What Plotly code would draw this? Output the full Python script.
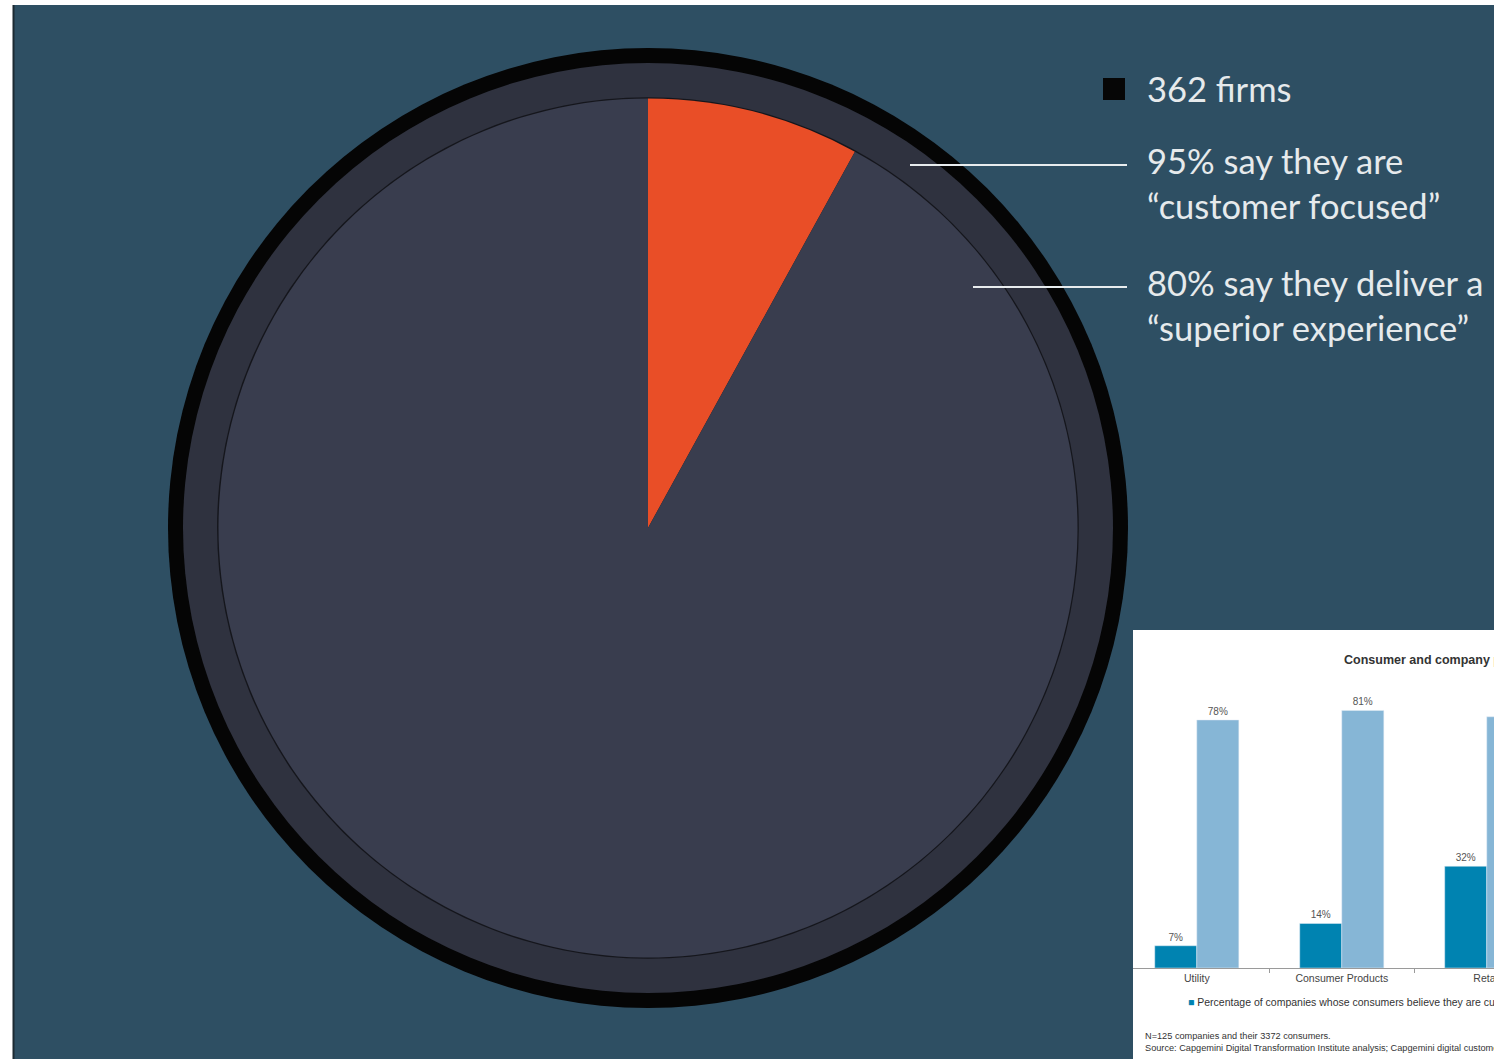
import plotly.graph_objects as go

W, H = 1494, 1059

# ---- data ----
pie_labels = ["Agree", "Rest"]
pie_values = [8, 92]

bar_categories = ["Utility", "Consumer Products", "Retail"]
consumers_believe = [7, 14, 32]
companies_believe = [78, 81, 79]

legend_lines = ["362 firms", "95% say they are<br>“customer focused”", "80% say they deliver a<br>“superior experience”"]

BG = "#2E4F63"
ORANGE = "#E94E27"
INNER = "#393D4E"
RING = "#2F323F"
DARK_BLUE = "#0083B1"
LIGHT_BLUE = "#86B6D6"

cx, cy = 648, 528  # pixel centre of the pie (from top)


def dom(r):
    ycen = H - cy
    return dict(x=[(cx - r) / W, (cx + r) / W], y=[(ycen - r) / H, (ycen + r) / H])


fig = go.Figure()

# outer black rim
fig.add_trace(go.Pie(values=[1], labels=["rim"], marker=dict(colors=["#050505"]), textinfo="none",
                     domain=dom(480), showlegend=False, hoverinfo="skip", sort=False))
# grey ring
fig.add_trace(go.Pie(values=[1], labels=["ring"], marker=dict(colors=[RING]), textinfo="none",
                     domain=dom(465), showlegend=False, hoverinfo="skip", sort=False))
# thin black edge
fig.add_trace(go.Pie(values=[1], labels=["edge"], marker=dict(colors=["#15161c"]), textinfo="none",
                     domain=dom(430.8), showlegend=False, hoverinfo="skip", sort=False))
# main pie
fig.add_trace(go.Pie(values=pie_values, labels=pie_labels, marker=dict(colors=[ORANGE, INNER]),
                     textinfo="none", domain=dom(429.5), showlegend=False, sort=False,
                     direction="clockwise", rotation=0))

# ---- inset bar chart ----
fig.add_trace(go.Bar(x=bar_categories, y=consumers_believe, marker_color=DARK_BLUE,
                     text=[f"{v}%" for v in consumers_believe], textposition="outside",
                     textfont=dict(size=10, color="#555555", family="Liberation Sans"),
                     cliponaxis=False, xaxis="x", yaxis="y", showlegend=False))
fig.add_trace(go.Bar(x=bar_categories, y=companies_believe, marker_color=LIGHT_BLUE,
                     text=[f"{v}%" for v in companies_believe], textposition="outside",
                     textfont=dict(size=10, color="#555555", family="Liberation Sans"),
                     cliponaxis=False, xaxis="x", yaxis="y", showlegend=False))

base_y = 968
top_y = base_y - 3.18 * 85

fig.update_layout(
    width=W, height=H,
    margin=dict(l=0, r=0, t=0, b=0, autoexpand=False),
    paper_bgcolor="white",
    plot_bgcolor="rgba(0,0,0,0)",
    barmode="group", bargap=0.42, bargroupgap=0,
    xaxis=dict(domain=[1133 / W, 1], type="category", range=[-0.44, 2.05], automargin=False,
               showline=True, linecolor="#9a9a9a", linewidth=1,
               ticks="outside", tickson="boundaries", ticklen=4, tickcolor="#9a9a9a",
               tickfont=dict(size=10.5, color="#444444", family="Liberation Sans"),
               showgrid=False, zeroline=False, anchor="y"),
    yaxis=dict(domain=[(H - base_y) / H, (H - top_y) / H], range=[0, 85], automargin=False,
               visible=False, showgrid=False, zeroline=False, anchor="x"),
)

shapes = []
# dark background panel with white frame at left/top
shapes.append(dict(type="rect", xref="paper", yref="paper", x0=13 / W, x1=1, y0=0, y1=(H - 5) / H,
                   fillcolor=BG, line=dict(width=0), layer="below"))
shapes.append(dict(type="line", xref="paper", yref="paper", x0=13.5 / W, x1=13.5 / W, y0=0, y1=(H - 5) / H,
                   line=dict(color="#1c2a33", width=2), layer="below"))
# white inset panel
shapes.append(dict(type="rect", xref="paper", yref="paper", x0=1133 / W, x1=1, y0=0, y1=(H - 630) / H,
                   fillcolor="white", line=dict(width=0), layer="below"))
# legend square
shapes.append(dict(type="rect", xref="paper", yref="paper", x0=1103 / W, x1=1125 / W,
                   y0=(H - 100) / H, y1=(H - 78) / H, fillcolor="#060606", line=dict(width=0), layer="above"))
# leader lines
shapes.append(dict(type="line", xref="paper", yref="paper", x0=910 / W, x1=1127 / W,
                   y0=(H - 165) / H, y1=(H - 165) / H, line=dict(color="#E8ECEE", width=2), layer="above"))
shapes.append(dict(type="line", xref="paper", yref="paper", x0=973 / W, x1=1127 / W,
                   y0=(H - 287) / H, y1=(H - 287) / H, line=dict(color="#E8ECEE", width=2), layer="above"))
fig.update_layout(shapes=shapes)

ann = []
txt_font = dict(family="Lato", size=34.5, color="#E6EAEC")
ann.append(dict(xref="paper", yref="paper", x=1145 / W, y=(H - 89) / H, xanchor="left", yanchor="middle",
                text=legend_lines[0], showarrow=False, font=txt_font, align="left"))
ann.append(dict(xref="paper", yref="paper", x=1145 / W, y=(H - 183) / H, xanchor="left", yanchor="middle",
                text=legend_lines[1], showarrow=False, font=txt_font, align="left"))
ann.append(dict(xref="paper", yref="paper", x=1145 / W, y=(H - 305) / H, xanchor="left", yanchor="middle",
                text=legend_lines[2], showarrow=False, font=txt_font, align="left"))

small = dict(family="Liberation Sans", color="#333333")
ann.append(dict(xref="paper", yref="paper", x=1342 / W, y=(H - 660) / H, xanchor="left", yanchor="middle",
                text="<b>Consumer and company perceptions of customer-centricity</b>", showarrow=False,
                font=dict(size=12.5, **small)))
ann.append(dict(xref="paper", yref="paper", x=1186 / W, y=(H - 1002) / H, xanchor="left", yanchor="middle",
                text=f"<span style='color:{DARK_BLUE}'>■</span> Percentage of companies whose consumers believe they are customer-centric"
                     f"   <span style='color:{LIGHT_BLUE}'>■</span> Percentage of companies who believe they are customer-centric",
                showarrow=False, font=dict(size=10.5, **small)))
ann.append(dict(xref="paper", yref="paper", x=1143 / W, y=(H - 1042) / H, xanchor="left", yanchor="middle",
                text="N=125 companies and their 3372 consumers.<br>Source: Capgemini Digital Transformation Institute analysis; Capgemini digital customer experience survey",
                showarrow=False, align="left", font=dict(size=9.2, **small)))
fig.update_layout(annotations=ann)

fig.write_html("out.html", config={"displayModeBar": False},
               post_script="document.body.style.margin='0px';document.body.style.overflow='hidden';")
